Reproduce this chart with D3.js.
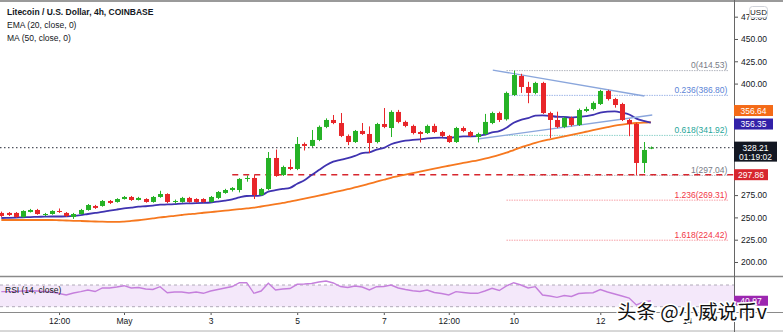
<!DOCTYPE html>
<html><head><meta charset="utf-8">
<script src="https://cdn.jsdelivr.net/npm/d3@7"></script>
<style>
html,body{margin:0;padding:0;background:#fff;}
svg{display:block;font-family:"Liberation Sans",Arial,sans-serif;}
</style></head><body>
<svg id="c" width="783" height="332"></svg>
<script>
// ---------------- DATA ----------------
const startTime = Date.UTC(2021, 3, 28, 4); // first 4h candle: 28 Apr 04:00
const opens = [255.0,255.0,255.0,250.5,256.1,258.3,252.7,253.8,257.2,255.0,
250.5,253.8,258.3,262.8,262.8,268.4,267.3,270.6,272.9,269.5,
270.6,267.3,272.9,276.2,267.3,267.3,271.8,270.6,270.6,267.3,
271.8,277.4,280.7,280.7,293.1,294.2,275.1,281.8,316.6,297.5,
306.5,304.3,332.3,330.1,336.8,351.4,359.2,355.8,341.3,334.5,
346.9,343.5,334.5,354.7,350.2,368.2,357.0,352.5,345.7,344.6,
352.5,345.7,341.3,334.5,350.2,345.7,340.1,343.5,355.8,367.0,
360.0,387.2,408.5,396.2,389.5,400.7,367.0,359.2,351.4,361.4,
353.6,369.3,371.5,377.1,391.7,382.7,377.1,359.2,354.7,311.0,327.5];
const highs = [256.5,256.0,256.0,258.0,259.5,259.5,255.0,258.0,260.0,256.0,
255.0,259.5,265.0,264.0,269.5,269.5,271.5,274.0,274.0,273.0,
271.5,274.0,279.8,277.0,270.0,273.0,273.0,271.5,271.5,274.0,
279.5,282.0,284.0,294.0,297.0,297.5,283.0,323.3,326.0,308.0,
315.0,340.1,334.0,348.0,353.0,361.0,364.8,367.0,343.0,348.0,
355.8,352.0,356.0,372.6,370.0,370.5,358.5,354.0,346.9,354.0,
355.0,347.0,342.5,351.5,352.0,347.0,345.0,366.0,368.5,368.5,
391.0,414.53,411.0,402.0,402.0,402.0,368.5,368.5,363.0,363.0,
372.0,374.0,380.0,393.0,393.0,384.0,378.5,360.5,356.0,334.5,329.5];
const lows = [250.5,251.5,249.5,249.5,255.5,253.0,251.5,253.0,255.0,250.5,
248.3,253.0,257.5,259.5,262.0,265.0,266.5,270.0,268.5,269.0,
266.5,266.5,272.0,266.0,265.5,266.5,266.5,266.5,266.5,266.5,
270.5,276.5,279.0,278.0,290.0,270.6,274.0,280.5,295.5,296.5,
303.0,303.0,325.0,329.0,335.5,350.0,354.5,340.0,331.0,333.5,
342.5,322.0,333.0,350.0,340.1,355.5,351.0,343.0,334.0,343.5,
344.5,340.0,333.5,333.5,345.5,340.0,334.0,342.0,354.5,357.0,
358.5,386.0,389.5,378.0,388.0,366.0,339.0,350.0,350.0,352.0,
352.5,368.0,370.0,376.0,381.0,373.0,358.0,341.0,297.04,299.8,326.5];
const closes = [251.6,252.7,250.5,257.2,258.3,253.8,253.8,257.2,256.1,251.6,
253.8,258.3,263.9,260.6,268.4,266.2,270.6,272.9,269.5,271.8,
267.3,272.9,276.2,267.3,268.4,271.8,267.3,267.3,267.3,272.9,
278.5,280.7,283.0,293.1,294.2,275.1,281.8,316.6,296.4,306.5,
304.3,332.3,330.1,336.8,351.4,359.2,355.8,341.3,334.5,346.9,
343.5,333.4,354.7,351.4,368.2,357.0,352.5,344.6,343.5,352.5,
345.7,341.3,334.5,350.2,346.9,341.3,343.5,357.0,367.0,359.2,
389.5,409.6,396.2,389.5,400.7,367.0,359.2,351.4,361.4,353.6,
370.4,371.5,378.3,391.7,382.7,376.0,359.2,354.7,311.0,325.6,328.21];
const ema20 = [249.3,249.5,249.8,250.1,250.4,250.6,250.8,251.0,251.0,251.2,
251.6,252.5,253.8,255.0,256.1,257.5,258.8,260.0,261.0,262.0,
262.5,263.2,264.2,264.5,264.9,265.5,265.7,265.9,266.2,266.7,
267.7,268.9,270.3,272.4,274.0,274.1,274.8,278.8,280.5,282.0,
283.2,287.7,291.7,297.5,303.0,308.5,312.5,314.5,316.5,319.0,
322.0,323.0,326.0,328.0,332.0,334.5,336.0,337.0,337.5,338.5,
339.2,339.4,339.0,340.1,340.8,340.9,341.1,342.8,345.3,346.7,
350.5,356.1,359.4,361.3,364.1,364.4,363.9,362.8,362.7,361.8,
362.6,363.5,364.9,367.5,368.5,368.8,367.4,365.3,360.8,358.2,356.35];
const ma50 = [247.1,247.1,247.1,247.1,247.1,247.1,247.1,247.1,246.8,246.5,
246.2,246.0,245.7,245.4,245.2,245.0,244.9,245.3,246.0,246.8,
247.8,248.9,250.0,250.8,251.8,252.7,253.6,254.3,255.2,256.0,
256.7,257.5,258.4,259.2,260.0,260.9,262.2,263.5,264.8,266.2,
267.6,269.3,271.0,272.7,274.4,276.2,278.0,279.8,281.6,283.6,
285.6,287.8,290.0,292.2,294.4,296.2,298.0,299.7,301.4,303.0,
304.7,306.3,307.9,309.5,311.0,312.5,314.0,315.8,317.8,320.0,
322.5,325.5,328.5,331.0,333.5,335.7,337.5,339.2,340.8,342.5,
344.3,346.0,347.7,349.5,351.2,352.8,354.0,355.0,355.8,356.3,356.64];
const rsi14 = [57.7,57.7,58.0,58.9,59.5,58.9,58.0,57.1,54.3,51.6,
55.3,57.7,60.8,58.0,64.5,64.5,66.3,68.7,64.5,65.4,
62.6,61.7,66.9,55.8,57.1,57.1,55.3,57.1,54.7,58.9,
61.7,64.5,67.2,74.2,74.2,54.7,58.9,73.1,60.8,62.6,
63.5,71.3,71.8,72.8,75.5,77.4,73.7,67.2,65.4,68.2,
66.3,60.8,66.9,67.2,70.0,64.5,61.7,59.5,58.0,60.8,
56.2,54.3,51.6,57.7,56.2,54.7,54.7,58.9,63.9,59.9,
68.2,74.2,70.0,64.5,66.9,51.6,49.7,47.3,50.6,48.8,
54.3,55.3,55.8,61.7,57.1,53.4,49.7,46.0,33.1,38.7,40.97];

// price tick labels that are visible (the others sit behind the value tags)
const priceTicks = [200,225,250,275,400,425,450,475];
const rsiTicks = [80];
const timeTicks = [Date.UTC(2021,3,29,12),Date.UTC(2021,4,1),Date.UTC(2021,4,3),Date.UTC(2021,4,5),
  Date.UTC(2021,4,7),Date.UTC(2021,4,8,12),Date.UTC(2021,4,10),Date.UTC(2021,4,12),Date.UTC(2021,4,14)];
const timeTickLabels = ["12:00","May","3","5","7","12:00","10","12","14"];

const fibRatios = [0, 0.236, 0.618, 1, 1.236, 1.618];
const fibPrices = [414.53, 386.80, 341.92, 297.04, 269.31, 224.42];
const fibStartIndex = 70;               // candle where the fib drawing begins
const fibEndTime = Date.UTC(2021,4,14,23);

const trendA = [[68.1, 415.2], [89.1, 386.1]];  // [candle index, price]
const trendB = [[66.0, 337.9], [90.2, 364.8]];
const hLinePrice = 297.86, hLineStartIndex = 32;
const lastPrice = 328.21, countdown = "01:19:02";
const emaLast = 356.35, maLast = 356.64, rsiLast = 40.97;

const titleLines = ["Litecoin / U.S. Dollar, 4h, COINBASE", "EMA (20, close, 0)", "MA (50, close, 0)"];
const watermark = "头条 @小威说币v";

// ---------------- STYLE / LAYOUT ----------------
const W = 783, H = 332, AX = 734, PANE_B = 276, RSI_T = 277, RSI_B = 312;
const UP = "#26b226", DOWN = "#e8262a", EMA_C = "#3f33b0", MA_C = "#f6781f";
const fibColors = ["#787b86", "#5b84d6", "#26a69a", "#787b86", "#f23645", "#f23645"];
const fibLineColors = ["#b2b5be", "#9db5e8", "#8fd2cb", "#c0c2c8", "#f7a1a8", "#f7a1a8"];
const FONT = 8.5;

const DAY = 864e5, H4 = 4 * 3600e3;
const may1 = Date.UTC(2021, 4, 1);
const pxDay = 43.3, may1Px = 124;
const dates = opens.map((_, i) => new Date(startTime + i * H4));
const tAt = i => new Date(startTime + i * H4);

const x = d3.scaleUtc()
  .domain([new Date(may1 - may1Px / pxDay * DAY), new Date(may1 + (AX - may1Px) / pxDay * DAY)])
  .range([0, AX]);
const y = d3.scaleLinear().domain([184.3, 493.7]).range([PANE_B, 0]);
const yr = d3.scaleLinear().domain([30, 70]).range([306.7, 285]);

const svg = d3.select("#c");
const defs = svg.append("defs");
defs.append("clipPath").attr("id", "main").append("rect").attr("x", 0).attr("y", 2).attr("width", AX).attr("height", PANE_B - 2);
defs.append("clipPath").attr("id", "rsi").append("rect").attr("x", 0).attr("y", RSI_T).attr("width", AX).attr("height", RSI_B - RSI_T);
defs.append("clipPath").attr("id", "rsiax").append("rect").attr("x", AX).attr("y", RSI_T).attr("width", W - AX).attr("height", RSI_B - RSI_T);

svg.append("rect").attr("width", W).attr("height", H).attr("fill", "#fff");

// ---------- main pane ----------
const main = svg.append("g").attr("clip-path", "url(#main)");

// fib levels
const fx0 = x(tAt(fibStartIndex)), fx1 = x(new Date(fibEndTime));
fibPrices.forEach((p, k) => {
  main.append("line").attr("x1", fx0).attr("x2", fx1).attr("y1", y(p)).attr("y2", y(p))
    .attr("stroke", fibLineColors[k]).attr("stroke-width", 1).attr("stroke-dasharray", "1.5,1");
  main.append("text").attr("x", fx1 - 1).attr("y", y(p) - 2.5).attr("text-anchor", "end")
    .attr("font-size", FONT).attr("fill", fibColors[k])
    .text(`${fibRatios[k]}(${fibPrices[k].toFixed(2)})`);
});

// horizontal red dashed line
main.append("line").attr("x1", x(tAt(hLineStartIndex))).attr("x2", AX).attr("y1", y(hLinePrice)).attr("y2", y(hLinePrice))
  .attr("stroke", "#d7262e").attr("stroke-width", 1.6).attr("stroke-dasharray", "6,5");

// last price dotted line
main.append("line").attr("x1", 0).attr("x2", AX).attr("y1", y(lastPrice)).attr("y2", y(lastPrice))
  .attr("stroke", "#50535e").attr("stroke-width", 1.2).attr("stroke-dasharray", "1.5,2.5");

// moving averages
const lineGen = arr => d3.line().x((d, i) => x(dates[i])).y(d => y(d)).curve(d3.curveMonotoneX)(arr);
main.append("path").attr("d", lineGen(ma50)).attr("fill", "none").attr("stroke", MA_C).attr("stroke-width", 1.8);
main.append("path").attr("d", lineGen(ema20)).attr("fill", "none").attr("stroke", EMA_C).attr("stroke-width", 1.8);

// trend lines
[trendA, trendB].forEach(t => {
  main.append("line").attr("x1", x(tAt(t[0][0]))).attr("y1", y(t[0][1]))
    .attr("x2", x(tAt(t[1][0]))).attr("y2", y(t[1][1]))
    .attr("stroke", "#8aa6dc").attr("stroke-width", 1.3);
});

// candles
const cw = 5;
const cg = main.append("g");
opens.forEach((o, i) => {
  const c = closes[i], up = c >= o, col = up ? UP : DOWN;
  const cx = Math.round(x(dates[i])) + 0.5;
  cg.append("line").attr("x1", cx).attr("x2", cx).attr("y1", y(highs[i])).attr("y2", y(lows[i]))
    .attr("stroke", col).attr("stroke-width", 1);
  const top = y(Math.max(o, c)), bot = y(Math.min(o, c));
  cg.append("rect").attr("x", cx - cw / 2).attr("y", top).attr("width", cw).attr("height", Math.max(1, bot - top))
    .attr("fill", col);
});

// legend
titleLines.forEach((t, k) => {
  svg.append("text").attr("x", 7).attr("y", 15 + k * 13).attr("font-size", FONT)
    .attr("font-weight", k === 0 ? "bold" : "normal").attr("fill", "#131722").text(t);
});

// ---------- RSI pane ----------
const rg = svg.append("g").attr("clip-path", "url(#rsi)");
rg.append("rect").attr("x", 0).attr("width", AX).attr("y", yr(70)).attr("height", yr(30) - yr(70)).attr("fill", "#f4e8fa");
[70, 30].forEach(v => rg.append("line").attr("x1", 0).attr("x2", AX).attr("y1", yr(v)).attr("y2", yr(v))
  .attr("stroke", "#b0aab8").attr("stroke-width", 1).attr("stroke-dasharray", "3,3"));
rg.append("path").attr("d", d3.line().x((d, i) => x(dates[i])).y(d => yr(d))(rsi14))
  .attr("fill", "none").attr("stroke", "#c57fdc").attr("stroke-width", 1.4);
svg.append("text").attr("x", 5).attr("y", 293).attr("font-size", FONT).attr("fill", "#131722").text("RSI (14, close)");

// ---------- axes ----------
const yAxis = d3.axisRight(y).tickValues(priceTicks).tickFormat(d3.format(".2f")).tickSize(4).tickPadding(3);
const ya = svg.append("g").attr("transform", `translate(${AX},0)`).call(yAxis);
ya.select(".domain").remove();
ya.selectAll("text").attr("font-size", FONT).attr("fill", "#131722").attr("font-family", "Liberation Sans, Arial");
ya.selectAll("line").attr("stroke", "#555");

const ra = svg.append("g").attr("transform", `translate(${AX},0)`).attr("clip-path", "url(#rsiax)")
  .call(d3.axisRight(yr).tickValues(rsiTicks).tickFormat(d3.format(".2f")).tickSize(4).tickPadding(3));
ra.select(".domain").remove();
ra.selectAll("text").attr("font-size", FONT).attr("fill", "#131722").attr("font-family", "Liberation Sans, Arial");

const xa = svg.append("g").attr("transform", `translate(0,${RSI_B})`)
  .call(d3.axisBottom(x).tickValues(timeTicks.map(d => new Date(d))).tickFormat((d, i) => timeTickLabels[i]).tickSize(3).tickPadding(3));
xa.select(".domain").remove();
xa.selectAll("text").attr("font-size", FONT).attr("fill", "#131722").attr("font-family", "Liberation Sans, Arial");
xa.selectAll("line").attr("stroke", "#555");

// frame lines
svg.append("line").attr("x1", 0).attr("x2", W).attr("y1", 1).attr("y2", 1).attr("stroke", "#9a9a9a").attr("stroke-width", 2);
svg.append("line").attr("x1", 0).attr("x2", W).attr("y1", PANE_B + 0.5).attr("y2", PANE_B + 0.5).attr("stroke", "#8a8a8a").attr("stroke-width", 1.5);
svg.append("line").attr("x1", 0).attr("x2", W).attr("y1", RSI_B + 0.5).attr("y2", RSI_B + 0.5).attr("stroke", "#8a8a8a").attr("stroke-width", 1.2);
svg.append("line").attr("x1", 0).attr("x2", W).attr("y1", H - 1).attr("y2", H - 1).attr("stroke", "#b0b0b0").attr("stroke-width", 1);
svg.append("line").attr("x1", AX + 0.5).attr("x2", AX + 0.5).attr("y1", 0).attr("y2", H).attr("stroke", "#666").attr("stroke-width", 1);

// USD badge
svg.append("rect").attr("x", 749.5).attr("y", 6.5).attr("width", 18).attr("height", 11).attr("rx", 3)
  .attr("fill", "#fff").attr("stroke", "#d0d3da");
svg.append("text").attr("x", 758.5).attr("y", 15).attr("text-anchor", "middle").attr("font-size", 8).attr("fill", "#131722").text("USD");

// price labels on axis
function tag(cy, txt, bg, h = 11, w = 39) {
  svg.append("rect").attr("x", AX).attr("y", cy - h / 2).attr("width", w).attr("height", h).attr("fill", bg);
  svg.append("text").attr("x", AX + w / 2).attr("y", cy + 3).attr("text-anchor", "middle")
    .attr("font-size", FONT).attr("fill", "#fff").text(txt);
}
const emaY = y(emaLast) + 1.5;
tag(emaY - 13.5, maLast.toFixed(2), "#f46a17");
tag(emaY, emaLast.toFixed(2), "#3221a8");
// last price (two lines)
const lpY = y(lastPrice);
svg.append("rect").attr("x", AX).attr("y", lpY - 6).attr("width", 43).attr("height", 20).attr("fill", "#131722");
svg.append("text").attr("x", AX + 21.5).attr("y", lpY + 3).attr("text-anchor", "middle").attr("font-size", FONT).attr("fill", "#fff").text(lastPrice.toFixed(2));
svg.append("text").attr("x", AX + 21.5).attr("y", lpY + 12).attr("text-anchor", "middle").attr("font-size", FONT).attr("fill", "#fff").text(countdown);
tag(y(hLinePrice), hLinePrice.toFixed(2), "#d7262e", 11, 34);
tag(yr(rsiLast), rsiLast.toFixed(2), "#9c27b0", 10, 34);

// watermark
svg.append("text").attr("x", 617).attr("y", 319).attr("font-size", 19.5)
  .attr("font-family", "Noto Sans CJK SC, sans-serif").attr("fill", "#111")
  .attr("stroke", "#fff").attr("stroke-width", 3).attr("paint-order", "stroke").text(watermark);
</script>
</body></html>
